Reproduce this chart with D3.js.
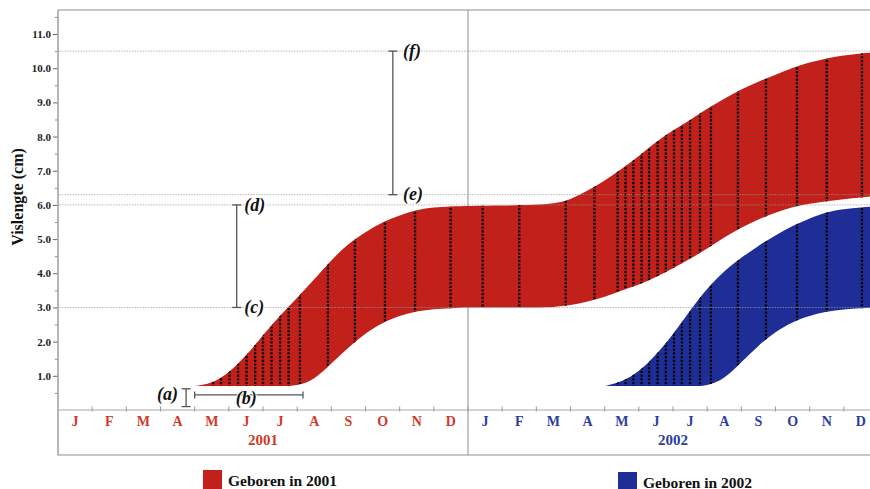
<!DOCTYPE html>
<html><head><meta charset="utf-8">
<script src="https://cdn.jsdelivr.net/npm/d3@7"></script>
<style>body{margin:0;background:#fff}svg{display:block}</style>
</head><body>
<svg id="chart" width="870" height="489"></svg>
<script>
// ---- data ----
const monthLabels = ["J","F","M","A","M","J","J","A","S","O","N","D"];
const yearLabels = ["2001","2002"];
const yMajorTicks = [1,2,3,4,5,6,7,8,9,10,11];
const yMinorTicks = [0.5,1.5,2.5,3.5,4.5,5.5,6.5,7.5,8.5,9.5,10.5,11.5];
const refLines = [3.0, 6.0, 6.3, 10.5];
const legendLabels = ["Geboren in 2001","Geboren in 2002"];

// months since 1 Jan 2001
const grid2001 = [4.0,4.5,5.0,5.5,6.0,6.5,7.0,7.5,8.0,8.5,9.0,9.5,10.0,10.5,11.0,11.5,12.0,13.0,14.0,14.5,15.0,15.5,16.0,16.5,17.0,17.5,18.0,18.5,19.0,19.5,20.0,20.5,21.0,21.5,22.0,22.5,23.0,23.5,24.0];
const upper2001 = [0.70,0.77,1.08,1.58,2.19,2.77,3.28,3.82,4.39,4.87,5.21,5.50,5.70,5.86,5.93,5.96,5.97,5.98,6.00,6.04,6.15,6.42,6.70,7.06,7.42,7.85,8.18,8.48,8.82,9.11,9.39,9.61,9.81,10.01,10.17,10.29,10.37,10.44,10.47];
const lower2001 = [0.70,0.70,0.70,0.70,0.70,0.70,0.70,0.88,1.36,1.83,2.25,2.56,2.76,2.89,2.95,2.98,3.00,3.00,3.00,3.01,3.06,3.17,3.30,3.50,3.66,3.88,4.15,4.42,4.72,5.06,5.34,5.58,5.78,5.94,6.04,6.11,6.17,6.22,6.27];

const grid2002 = [16.0,16.5,17.0,17.5,18.0,18.5,19.0,19.5,20.0,20.5,21.0,21.5,22.0,22.5,23.0,23.5,24.0];
const upper2002 = [0.70,0.82,1.11,1.61,2.21,2.91,3.56,4.07,4.46,4.81,5.11,5.39,5.61,5.80,5.88,5.93,5.96];
const lower2002 = [0.70,0.70,0.70,0.70,0.70,0.70,0.70,0.90,1.40,1.89,2.29,2.58,2.76,2.88,2.95,2.98,3.00];

// sampling moments (dotted verticals), months since 1 Jan 2001
const sampleMonths = [4.54,4.77,5.02,5.27,5.52,5.77,6.00,6.25,6.50,6.75,7.08,7.90,8.69,9.57,10.45,11.49,12.43,13.50,14.86,15.70,16.38,16.61,16.84,17.08,17.30,17.55,17.79,18.03,18.26,18.50,18.79,19.11,19.90,20.72,21.63,22.50,23.53];

// annotation brackets and labels
const brackets = [
  {orient:"v", m:9.8, from:6.3, to:10.5},
  {orient:"v", m:5.23, from:3.0, to:6.0},
  {orient:"v", m:3.75, from:0.1, to:0.62},
  {orient:"h", v:0.44, from:4.0, to:7.17}
];
const annoLabels = [
  {t:"(f)", m:10.1, v:10.5},
  {t:"(e)", m:10.1, v:6.3},
  {t:"(d)", m:5.45, v:6.0},
  {t:"(c)", m:5.45, v:3.0},
  {t:"(a)", m:2.9, v:0.47},
  {t:"(b)", m:5.2, v:0.35}
];

// ---- drawing ----
const svg = d3.select("#chart");
const serif = "'Liberation Serif','DejaVu Serif',serif";
const RED = "#c2201a", BLUE = "#1f2e96", RED_T = "#cf3a2a", BLUE_T = "#2c3d9e";
const fLeft = 58, fRight = 878, fTop = 10, fBottom = 455;
const x = d3.scaleLinear().domain([0,24]).range([fLeft,fRight]);
const y = d3.scaleLinear().domain([0,11]).range([410, 410 - 11*34.18]);

// frame
svg.append("rect").attr("x",fLeft).attr("y",fTop).attr("width",fRight-fLeft+10).attr("height",fBottom-fTop)
  .attr("fill","none").attr("stroke","#b0b0b0").attr("stroke-width",1.4);
// year divider
svg.append("line").attr("x1",x(12)).attr("x2",x(12)).attr("y1",fTop).attr("y2",fBottom)
  .attr("stroke","#8a8f99").attr("stroke-width",1);
// x axis line
svg.append("line").attr("x1",fLeft).attr("x2",870).attr("y1",y(0)).attr("y2",y(0))
  .attr("stroke","#a8a8a8").attr("stroke-width",1.2);

// bands
const area = d3.area().curve(d3.curveBasis)
  .x(d=>x(d.m)).y0(d=>y(d.lo)).y1(d=>y(d.hi));
const band1 = grid2001.map((m,i)=>({m, lo:lower2001[i], hi:upper2001[i]}));
const band2 = grid2002.map((m,i)=>({m, lo:lower2002[i], hi:upper2002[i]}));
const defs = svg.append("defs");
defs.append("clipPath").attr("id","clip1").append("path").attr("d",area(band1));
defs.append("clipPath").attr("id","clip2").append("path").attr("d",area(band2));

svg.append("path").attr("d",area(band1)).attr("fill",RED);
svg.append("path").attr("d",area(band2)).attr("fill",BLUE);

["clip1","clip2"].forEach(id=>{
  svg.append("g").attr("clip-path",`url(#${id})`)
    .selectAll("line").data(sampleMonths).join("line")
    .attr("x1",d=>x(d)).attr("x2",d=>x(d)).attr("y1",y(0)).attr("y2",y(11))
    .attr("stroke","#050505").attr("stroke-width",2.3).attr("stroke-dasharray","2.2 1.5");
});

// reference dotted lines
svg.selectAll(".ref").data(refLines).join("line")
  .attr("x1",fLeft+1).attr("x2",870).attr("y1",d=>y(d)).attr("y2",d=>y(d))
  .attr("stroke","#999").attr("stroke-opacity",0.7).attr("stroke-width",1).attr("stroke-dasharray","1.5 1.2");

// y axis
const yAxis = d3.axisLeft(y).tickValues(yMajorTicks).tickFormat(d3.format(".1f")).tickSize(5).tickPadding(2);
const ga = svg.append("g").attr("transform",`translate(${fLeft},0)`).call(yAxis);
ga.select(".domain").remove();
ga.selectAll("line").attr("stroke","#666");
ga.selectAll("text").attr("font-family",serif).attr("font-weight","bold").attr("font-size",11).attr("fill","#222");
const gm = svg.append("g").attr("transform",`translate(${fLeft},0)`)
  .call(d3.axisLeft(y).tickValues(yMinorTicks).tickFormat("").tickSize(3));
gm.select(".domain").remove();
gm.selectAll("line").attr("stroke","#888");
svg.append("line").attr("x1",fLeft).attr("x2",fLeft).attr("y1",fTop).attr("y2",fBottom).attr("stroke","#b0b0b0").attr("stroke-width",1.4);

svg.append("text").attr("transform",`translate(23,197) rotate(-90)`).attr("text-anchor","middle")
  .attr("font-family",serif).attr("font-weight","bold").attr("font-size",16).attr("fill","#111")
  .text("Vislengte (cm)");

// month ticks and labels
const allMonths = d3.range(24);
svg.selectAll(".mt").data(d3.range(1,24)).join("line")
  .attr("x1",d=>x(d)).attr("x2",d=>x(d)).attr("y1",y(0)-3.5).attr("y2",y(0)+1.5)
  .attr("stroke","#999").attr("stroke-width",1);
svg.selectAll(".ml").data(allMonths).join("text")
  .attr("x",d=>x(d+0.5)).attr("y",426).attr("text-anchor","middle")
  .attr("font-family",serif).attr("font-weight","bold").attr("font-size",14)
  .attr("fill",d=>d<12?RED_T:BLUE_T).text(d=>monthLabels[d%12]);
svg.selectAll(".yl").data(yearLabels).join("text")
  .attr("x",(d,i)=>x(6+12*i)).attr("y",445).attr("text-anchor","middle")
  .attr("font-family",serif).attr("font-weight","bold").attr("font-size",15)
  .attr("fill",(d,i)=>i?BLUE_T:RED_T).text(d=>d);

// brackets
const bc = "#555", cap = 4.5;
brackets.forEach(b=>{
  const g = svg.append("g").attr("stroke",bc).attr("stroke-width",1.3);
  if(b.orient==="v"){
    const xx = x(b.m);
    g.append("line").attr("x1",xx).attr("x2",xx).attr("y1",y(b.from)).attr("y2",y(b.to));
    [b.from,b.to].forEach(v=>g.append("line").attr("x1",xx-cap).attr("x2",xx+cap).attr("y1",y(v)).attr("y2",y(v)));
  } else {
    const yy = y(b.v);
    g.append("line").attr("x1",x(b.from)).attr("x2",x(b.to)).attr("y1",yy).attr("y2",yy);
    [b.from,b.to].forEach(m=>g.append("line").attr("x1",x(m)).attr("x2",x(m)).attr("y1",yy-cap+1).attr("y2",yy+cap-1));
  }
});
svg.selectAll(".an").data(annoLabels).join("text")
  .attr("x",d=>x(d.m)).attr("y",d=>y(d.v)).attr("dy","0.32em")
  .attr("font-family",serif).attr("font-weight","bold").attr("font-style","italic").attr("font-size",18)
  .attr("fill","#111").attr("paint-order","stroke").attr("stroke","#fff").attr("stroke-width",2)
  .text(d=>d.t);

// legend
const leg = [{x:203,y:470,c:RED},{x:618,y:472,c:BLUE}];
leg.forEach((l,i)=>{
  svg.append("rect").attr("x",l.x).attr("y",l.y).attr("width",19).attr("height",19).attr("fill",l.c);
  svg.append("text").attr("x",l.x+25).attr("y",l.y+15.5)
    .attr("font-family",serif).attr("font-weight","bold").attr("font-size",15.5).attr("fill","#111")
    .text(legendLabels[i]);
});
</script>
</body></html>
